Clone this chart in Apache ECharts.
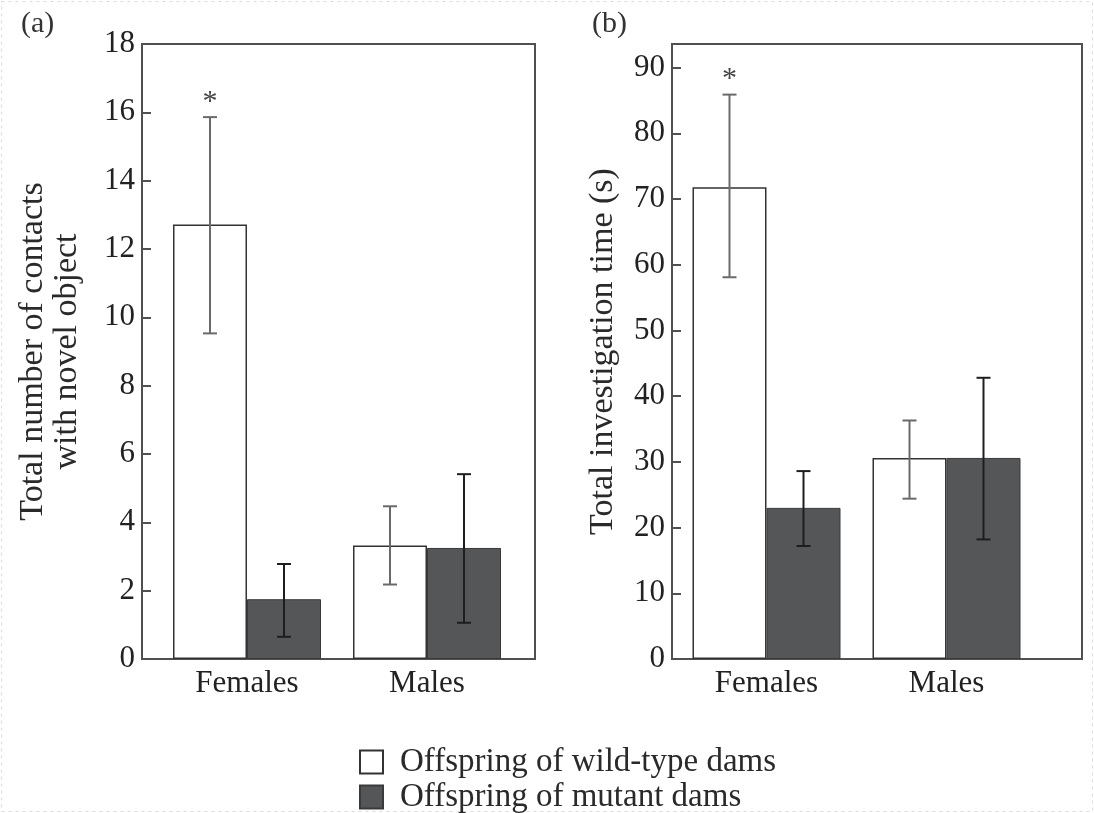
<!DOCTYPE html>
<html>
<head>
<meta charset="utf-8">
<script src="https://cdn.jsdelivr.net/npm/echarts@6/dist/echarts.min.js"></script>
<style>
  html, body { margin: 0; padding: 0; background: #fff; }
  #chart { width: 1094px; height: 813px; }
</style>
</head>
<body>
<div id="chart"></div>
<script>
// ---------- data ----------
const categories = ['Females', 'Males'];
const seriesNames = ['Offspring of wild-type dams', 'Offspring of mutant dams'];

// Panel (a): total number of contacts with novel object
const contactsWild = [12.72, 3.32];
const contactsMutant = [1.75, 3.25];
const contactsWildLow = [9.53, 2.18];
const contactsWildHigh = [15.86, 4.47];
const contactsMutantLow = [0.65, 1.06];
const contactsMutantHigh = [2.78, 5.41];
const contactsWildSig = ['*', ''];
const contactsMutantSig = ['', ''];
const contactsAxis = { min: 0, max: 18, interval: 2 };

// Panel (b): total investigation time (s)
const timeWild = [71.8, 30.6];
const timeMutant = [23.0, 30.6];
const timeWildLow = [58.1, 24.4];
const timeWildHigh = [85.9, 36.3];
const timeMutantLow = [17.2, 18.2];
const timeMutantHigh = [28.6, 42.8];
const timeWildSig = ['*', ''];
const timeMutantSig = ['', ''];
const timeAxis = { min: 0, max: 93.6, interval: 10 };

// ---------- style ----------
const FONT = 'Liberation Serif';
const BAR_W = 74;
const FRAME = '#505050';
const WILD_FILL = '#ffffff';
const MUTANT_FILL = '#545658';

function errData(low, high) {
  return low.map((l, i) => [i, l, high[i]]);
}

function errRenderer(side, color, sig) {
  return function (params, api) {
    const cat = api.value(0);
    const lo = api.coord([cat, api.value(1)]);
    const hi = api.coord([cat, api.value(2)]);
    const x = lo[0] + side * BAR_W / 2;
    const cap = 7;
    const children = [
      { type: 'line', shape: { x1: x, y1: lo[1], x2: x, y2: hi[1] }, style: { stroke: color, lineWidth: 2 } },
      { type: 'line', shape: { x1: x - cap, y1: hi[1], x2: x + cap, y2: hi[1] }, style: { stroke: color, lineWidth: 2 } },
      { type: 'line', shape: { x1: x - cap, y1: lo[1], x2: x + cap, y2: lo[1] }, style: { stroke: color, lineWidth: 2 } }
    ];
    const s = sig[params.dataIndex];
    if (s) {
      children.push({
        type: 'text',
        style: { text: s, x: x, y: hi[1] - 15, align: 'center', verticalAlign: 'middle',
                 font: '30px "' + FONT + '"', fill: '#444' }
      });
    }
    return { type: 'group', children: children };
  };
}

function frameYAxis(gridIndex, ax, name, nameGap, extra) {
  return Object.assign({
    type: 'value', gridIndex: gridIndex, min: ax.min, max: ax.max, interval: ax.interval,
    name: name, nameLocation: 'middle', nameGap: nameGap, nameRotate: 90,
    nameTextStyle: { fontFamily: FONT, fontSize: 34, color: '#2a2a2a', lineHeight: 34 },
    axisLine: { show: false },
    axisTick: { show: true, inside: true, length: 9, lineStyle: { color: FRAME, width: 2 } },
    axisLabel: { fontFamily: FONT, fontSize: 31, color: '#222', margin: 7 },
    splitLine: { show: false }
  }, extra || {});
}

function barXAxis(gridIndex) {
  return {
    type: 'category', gridIndex: gridIndex, data: categories,
    axisLine: { show: false }, axisTick: { show: false },
    axisLabel: { fontFamily: FONT, fontSize: 31, color: '#222', margin: 9 }
  };
}

const gridTop = 44, gridHeight = 615;

const option = {
  animation: false,
  backgroundColor: '#ffffff',
  title: [
    { text: '(a)', left: 16, top: 4, textStyle: { fontFamily: FONT, fontSize: 30, fontWeight: 'normal', color: '#333' } },
    { text: '(b)', left: 587, top: 4, textStyle: { fontFamily: FONT, fontSize: 30, fontWeight: 'normal', color: '#333' } }
  ],
  grid: [
    { left: 142, top: gridTop, width: 393, height: gridHeight, show: true, borderColor: FRAME, borderWidth: 2, backgroundColor: 'transparent' },
    { left: 157, top: gridTop, width: 360, height: gridHeight },
    { left: 672, top: gridTop, width: 410, height: gridHeight, show: true, borderColor: FRAME, borderWidth: 2, backgroundColor: 'transparent' },
    { left: 676.5, top: gridTop, width: 360, height: gridHeight }
  ],
  xAxis: [
    { type: 'value', gridIndex: 0, show: false, min: 0, max: 1 },
    barXAxis(1),
    { type: 'value', gridIndex: 2, show: false, min: 0, max: 1 },
    barXAxis(3)
  ],
  yAxis: [
    frameYAxis(0, contactsAxis, 'Total number of contacts\nwith novel object', 58),
    { type: 'value', gridIndex: 1, show: false, min: contactsAxis.min, max: contactsAxis.max },
    frameYAxis(2, timeAxis, 'Total investigation time (s)', 52,
      { axisLabel: { fontFamily: FONT, fontSize: 31, color: '#222', margin: 7, showMaxLabel: false } }),
    { type: 'value', gridIndex: 3, show: false, min: timeAxis.min, max: timeAxis.max }
  ],
  legend: {
    orient: 'vertical', left: 359, top: 745, height: 100, padding: 0,
    itemWidth: 23, itemHeight: 23, itemGap: 1,
    icon: 'rect',
    textStyle: { fontFamily: FONT, fontSize: 33, color: '#2a2a2a', lineHeight: 34, padding: [0, 0, 0, 12] },
    data: seriesNames
  },
  series: [
    { name: seriesNames[0], type: 'bar', xAxisIndex: 1, yAxisIndex: 1, data: contactsWild,
      barWidth: BAR_W, barGap: '0%', itemStyle: { color: WILD_FILL, borderColor: '#333', borderWidth: 1.5 } },
    { name: seriesNames[1], type: 'bar', xAxisIndex: 1, yAxisIndex: 1, data: contactsMutant,
      barWidth: BAR_W, barGap: '0%', itemStyle: { color: MUTANT_FILL, borderColor: '#3a3a3a', borderWidth: 1 } },
    { name: 'errA0', type: 'custom', xAxisIndex: 1, yAxisIndex: 1, z: 5,
      data: errData(contactsWildLow, contactsWildHigh), encode: { x: 0, y: [1, 2] },
      renderItem: errRenderer(-1, '#6a6a6a', contactsWildSig) },
    { name: 'errA1', type: 'custom', xAxisIndex: 1, yAxisIndex: 1, z: 5,
      data: errData(contactsMutantLow, contactsMutantHigh), encode: { x: 0, y: [1, 2] },
      renderItem: errRenderer(1, '#1e1e1e', contactsMutantSig) },

    { name: seriesNames[0], type: 'bar', xAxisIndex: 3, yAxisIndex: 3, data: timeWild,
      barWidth: BAR_W, barGap: '0%', itemStyle: { color: WILD_FILL, borderColor: '#333', borderWidth: 1.5 } },
    { name: seriesNames[1], type: 'bar', xAxisIndex: 3, yAxisIndex: 3, data: timeMutant,
      barWidth: BAR_W, barGap: '0%', itemStyle: { color: MUTANT_FILL, borderColor: '#3a3a3a', borderWidth: 1 } },
    { name: 'errB0', type: 'custom', xAxisIndex: 3, yAxisIndex: 3, z: 5,
      data: errData(timeWildLow, timeWildHigh), encode: { x: 0, y: [1, 2] },
      renderItem: errRenderer(-1, '#6a6a6a', timeWildSig) },
    { name: 'errB1', type: 'custom', xAxisIndex: 3, yAxisIndex: 3, z: 5,
      data: errData(timeMutantLow, timeMutantHigh), encode: { x: 0, y: [1, 2] },
      renderItem: errRenderer(1, '#1e1e1e', timeMutantSig) }
  ],
  graphic: [
    { type: 'rect', silent: true, shape: { x: 1.5, y: 1.5, width: 1091, height: 810 },
      style: { fill: 'none', stroke: '#dcdcdc', lineWidth: 1, lineDash: [3, 4] } }
  ]
};

const chart = echarts.init(document.getElementById('chart'), null, { renderer: 'canvas' });
chart.setOption(option);
</script>
</body>
</html>
